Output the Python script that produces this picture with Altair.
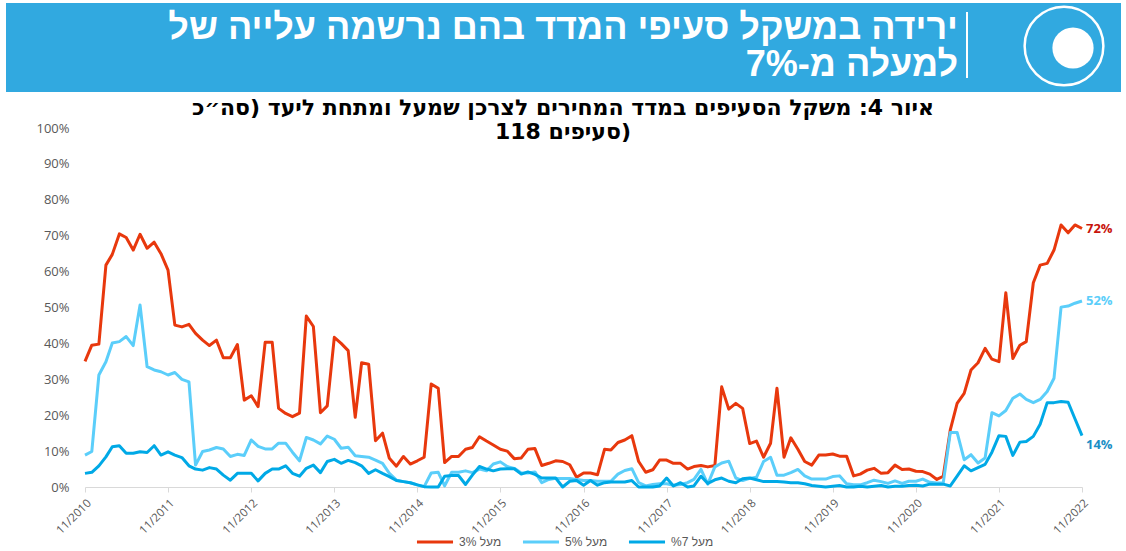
import altair as alt
import pandas as pd

# ---------------- data (monthly, 11/2010 .. 11/2022, % of CPI weight) ----------------
start_month = "2010-11-01"
n_months = 145

above3 = [35, 39.5, 39.8, 61.8, 64.8, 70.5, 69.5, 66, 70.4, 66.5,
          68.2, 65, 60.4, 45.1, 44.6, 45.3, 42.8, 40.9, 39.4, 40.9,
          36, 36, 39.7, 24.2, 25.4, 22.4, 40.3, 40.3, 21.9, 20.5,
          19.6, 20.6, 47.6, 44.7, 20.7, 22.6, 41.7, 40, 38, 19.4,
          34.6, 34.2, 12.9, 15, 8, 5.8, 8.5, 6.4, 7.3, 8.3,
          28.7, 27.5, 6.8, 8.5, 8.5, 10.5, 11, 14, 12.8, 11.7,
          10.5, 10, 7.9, 8.1, 10.5, 10.7, 6, 6.6, 7.3, 7.1,
          6.2, 2.7, 3.9, 3.9, 3.4, 10.5, 10.3, 12.4, 13.1, 14.3,
          7.1, 4.1, 4.8, 7.5, 7.5, 6.6, 6.6, 5, 5.7, 6,
          5.6, 6, 27.9, 21.7, 23.3, 21.9, 12.1, 12.8, 8.3, 12.2,
          27.5, 8.3, 13.7, 10.5, 7.1, 6.1, 8.9, 8.9, 9.2, 8.6,
          8.6, 3.1, 3.6, 4.7, 5.2, 3.8, 4, 6.1, 4.9, 5,
          4.4, 4.3, 3.6, 2.1, 3, 15.9, 23.3, 26.1, 32.6, 34.6,
          38.6, 35.6, 34.9, 54.1, 35.8, 39.5, 40.5, 56.9, 61.8, 62.3,
          66, 73, 70.8, 73, 72]

above5 = [8.9, 9.9, 31.2, 34.9, 40.1, 40.5, 41.9, 39.4, 50.7, 33.5,
          32.6, 32.1, 31.2, 31.9, 30, 29.3, 6.1, 9.9, 10.3, 11,
          10.6, 8.5, 9.1, 8.8, 13.1, 11.3, 10.6, 10.6, 12.2, 12.2,
          9.7, 7.3, 13.8, 13.1, 12, 14.2, 13.3, 10.8, 11.1, 8.7,
          8.5, 8.3, 7.5, 6.6, 3.8, 1.9, 1.5, 1.2, 0.6, 0.1,
          3.9, 4.1, 0.3, 4.1, 4.1, 4.5, 4, 5, 4.5, 6.4,
          7, 5.7, 5.2, 3.9, 3.9, 4.2, 1.2, 2.1, 2.4, 2.4,
          2.4, 2.1, 1.8, 1.8, 1.6, 1.6, 1.6, 3.6, 4.6, 5.1,
          1.2, 0.3, 0.7, 0.9, 0.9, 0.5, 0.7, 1.2, 2.1, 4.9,
          0.8, 5.6, 6.7, 7.2, 2.5, 1.8, 2.4, 2.7, 7.1, 8.3,
          3.3, 3.3, 4, 4.9, 3.1, 2.2, 2.2, 2.2, 2.9, 3.1,
          0.9, 0.6, 0.6, 1.2, 1.9, 1.5, 1, 1.7, 1, 1.6,
          1.6, 2.2, 1.3, 1.1, 1.1, 15.2, 15.2, 7.6, 9, 6.7,
          8.1, 20.7, 19.8, 21.3, 24.7, 25.9, 24.4, 23.5, 24.4, 26.6,
          30.3, 50.1, 50.4, 51.2, 51.8]

above7 = [3.8, 4.1, 5.9, 8.4, 11.2, 11.5, 9.4, 9.4, 9.8, 9.6,
          11.5, 8.9, 9.8, 8.9, 8.2, 5.9, 5, 4.7, 5.4, 5,
          3.3, 1.9, 3.8, 3.8, 3.8, 1.7, 3.8, 5, 5, 5.9,
          3.8, 3, 5.2, 6.1, 4, 7.1, 7.7, 6.6, 7.4, 6.8,
          5.9, 3.8, 4.8, 3.8, 2.9, 1.8, 1.5, 1.2, 0.6, 0.1,
          0, 0, 3, 3.2, 3.2, 0.7, 3.3, 5.7, 5, 4.5,
          5, 5.1, 5.1, 3.6, 4.2, 3.5, 2.5, 2.5, 2.5, 0,
          1.6, 1.8, 0.5, 1.8, 0.5, 1.2, 1.4, 1.4, 1.4, 1.8,
          0, 0, 0, 0.3, 2.5, 0.3, 1.2, 0, 0.3, 3,
          1, 2, 2.5, 1.6, 1.2, 2.3, 2.5, 2, 1.5, 1.5,
          1.5, 1.4, 1.2, 1.2, 0.9, 0.4, 0.2, 0, 0.2, 0.4,
          0, 0, 0.2, 0, 0.2, 0.4, 0, 0.2, 0.2, 0.4,
          0.5, 0.3, 0.8, 0.8, 0.8, 0.3, 3, 5.9, 4.5, 5.4,
          6.3, 9.7, 14.3, 14.1, 8.8, 12.5, 12.7, 14.1, 17.5, 23.5,
          23.5, 23.8, 23.6, 19, 14.3]

series_names = ["מעל 3%", "מעל 5%", "מעל %7"]
tick_years = list(range(2010, 2023))
y_ticks = [0, 0.1, 0.2, 0.3, 0.4, 0.5, 0.6, 0.7, 0.8, 0.9, 1.0]

header_line1 = "ירידה במשקל סעיפי המדד בהם נרשמה עלייה של"
header_line2 = "למעלה מ-7%"
title_line1 = "איור 4: משקל הסעיפים במדד המחירים לצרכן שמעל ומתחת ליעד (סה״כ"
title_line2 = "118 סעיפים)"

# ---------------- styles ----------------
line_colors = ["#E8380D", "#5BCEFA", "#00A9E6"]
label_colors = ["#C8140C", "#5BCEFA", "#1B8FC6"]
banner_color = "#31A9E0"
HEB = "Liberation Sans"
TITLEF = "DejaVu Sans"
LAT = "Open Sans"

months = pd.date_range(start_month, periods=n_months, freq="MS")
rows = []
for name, vals in zip(series_names, [above3, above5, above7]):
    for d, v in zip(months, vals):
        rows.append({"date": d, "series": name, "value": v / 100.0})
df = pd.DataFrame(rows)

ends = pd.DataFrame({
    "date": [months[-1]] * 3,
    "series": series_names,
    "value": [above3[-1] / 100, above5[-1] / 100, above7[-1] / 100],
    "label": [f"{round(v[-1])}%" for v in (above3, above5, above7)],
    "lc": label_colors,
})

W, H = 997, 359
PL, PT = 85, 128

x_axis = alt.Axis(
    values=[alt.DateTime(year=y, month=11, date=1) for y in tick_years],
    format="%m/%Y", labelAngle=-45, labelAlign="right", labelBaseline="top",
    labelFont=LAT, labelFontSize=11.5, labelColor="#595959", labelPadding=5,
    domainColor="#D9D9D9", tickColor="#D9D9D9", tickSize=5, grid=False,
    title=None, labelOverlap=False,
)
y_axis = alt.Axis(
    values=y_ticks, format=".0%", domain=False, ticks=False,
    labelFont=LAT, labelFontSize=13, labelColor="#595959", labelPadding=16,
    grid=False, title=None, labelOverlap=False,
)
x_scale = alt.Scale(domain=[alt.DateTime(year=2010, month=11, date=1),
                            alt.DateTime(year=2022, month=11, date=1)], nice=False)
y_scale = alt.Scale(domain=[0, 1], nice=False)

x_enc = alt.X("date:T", scale=x_scale, axis=x_axis)
y_enc = alt.Y("value:Q", scale=y_scale, axis=y_axis)
color_enc = alt.Color(
    "series:N",
    scale=alt.Scale(domain=series_names, range=line_colors),
    legend=alt.Legend(
        orient="none", legendX=330, legendY=394, direction="horizontal", title=None,
        symbolType="stroke", symbolStrokeWidth=3, symbolSize=1300,
        labelFont=HEB, labelFontSize=12, labelColor="#595959",
        columnPadding=14, labelOffset=4,
    ),
)

base = alt.Chart(df)
lines = [
    base.transform_filter(alt.datum.series == name)
    .mark_line(strokeWidth=3, strokeJoin="round", clip=False)
    .encode(x=x_enc, y=y_enc, color=color_enc)
    for name in series_names
]

ends_chart = alt.Chart(ends)
end_top = ends_chart.transform_filter(alt.datum.series != series_names[2]).mark_text(
    align="left", baseline="middle", dx=4, fontSize=13, fontWeight="bold", font=LAT
).encode(x=x_enc, y=y_enc, text="label:N", color=alt.Color("lc:N", scale=None))
end_low = ends_chart.transform_filter(alt.datum.series == series_names[2]).mark_text(
    align="left", baseline="middle", dx=4, dy=9, fontSize=13, fontWeight="bold", font=LAT
).encode(x=x_enc, y=y_enc, text="label:N", color=alt.Color("lc:N", scale=None))

one = pd.DataFrame({"k": [0]})
deco = alt.Chart(one)
banner = deco.mark_rect(color=banner_color).encode(
    x=alt.value(6 - PL), x2=alt.value(1121 - PL), y=alt.value(3 - PT), y2=alt.value(92 - PT))
divider = deco.mark_rule(color="white", strokeWidth=2).encode(
    x=alt.value(967 - PL), y=alt.value(12 - PT), y2=alt.value(78 - PT))
logo_ring = deco.mark_point(shape="circle", size=6200, filled=False, color="white",
                            strokeWidth=2.5, opacity=1).encode(
    x=alt.value(1064 - PL), y=alt.value(46 - PT))
logo_in = deco.mark_point(shape="circle", size=1700, filled=True, color="white",
                          opacity=1).encode(
    x=alt.value(1073 - PL), y=alt.value(48 - PT))
head1 = deco.mark_text(align="right", baseline="middle", font=HEB, fontSize=36,
                       fontWeight="bold", color="white").encode(
    x=alt.value(958 - PL), y=alt.value(28 - PT), text=alt.value(header_line1))
head2 = deco.mark_text(align="right", baseline="middle", font=HEB, fontSize=36,
                       fontWeight="bold", color="white").encode(
    x=alt.value(958 - PL), y=alt.value(65 - PT), text=alt.value(header_line2))
t1 = deco.mark_text(align="center", baseline="middle", font=TITLEF, fontSize=22,
                    fontWeight="bold", color="black").encode(
    x=alt.value(563 - PL), y=alt.value(108 - PT), text=alt.value(title_line1))
t2 = deco.mark_text(align="center", baseline="middle", font=TITLEF, fontSize=22,
                    fontWeight="bold", color="black").encode(
    x=alt.value(563 - PL), y=alt.value(132 - PT), text=alt.value(title_line2))

chart = alt.layer(
    banner, divider, logo_ring, logo_in, head1, head2, t1, t2,
    *lines, end_top, end_low,
).properties(
    width=W, height=H,
    padding={"left": PL, "top": PT, "right": 1126 - PL - W, "bottom": 551 - PT - H},
    autosize="none",
    background="white",
).configure_view(stroke=None)

chart.save("out.html", embed_options={"renderer": "svg", "actions": False})
